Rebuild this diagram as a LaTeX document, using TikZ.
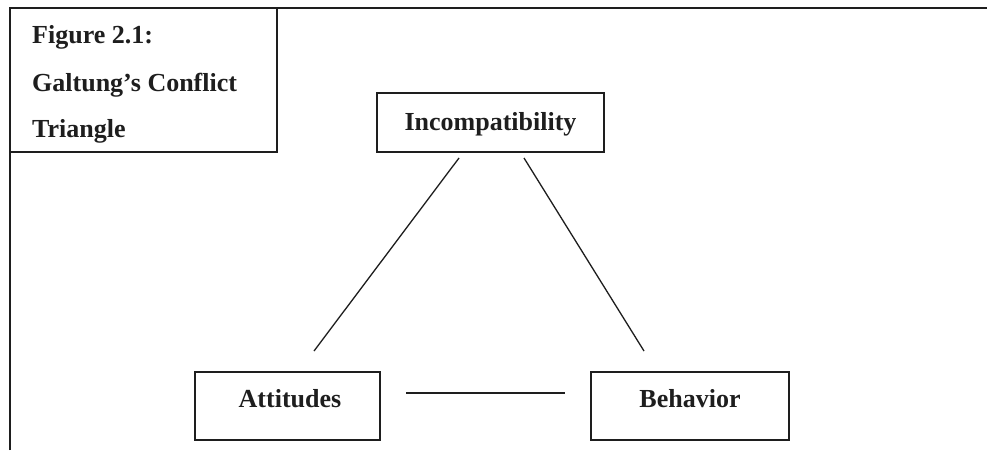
\documentclass[tikz,border=0pt]{standalone}
\usepackage{fontspec}
\setmainfont{Liberation Serif}
\definecolor{ink}{HTML}{1E1E1E}
\begin{document}
\begin{tikzpicture}[x=1pt,y=-1pt,
  boxstyle/.style={draw=ink,line width=1.7pt,rectangle,inner sep=0pt},
  lbl/.style={font=\fontsize{26}{30}\selectfont\bfseries,text=ink,inner sep=0pt,anchor=base},
  ttl/.style={font=\fontsize{26}{30}\selectfont\bfseries,text=ink,inner sep=0pt,anchor=base west},
  conn/.style={draw=ink,line width=1.3pt}]
\useasboundingbox[fill=white] (0,0) rectangle (987,450);
% outer frame
\coordinate (fbl) at (10,450);
\coordinate (ftl) at (10,8);
\coordinate (ftr) at (987,8);
\draw[draw=ink,line width=1.7pt] (fbl) -- (ftl) -- (ftr);
% title box
\node[boxstyle,minimum width=267pt,minimum height=144pt] (title) at (143.5,80) {};
\node[ttl] (t1) at (32,43) {Figure 2.1:};
\node[ttl] (t2) at (32,91) {Galtung’s Conflict};
\node[ttl] (t3) at (32,137) {Triangle};
% boxes
\node[boxstyle,minimum width=227pt,minimum height=59pt] (inc) at (490.5,122.5) {};
\node[lbl] (incl) at (490.5,130) {Incompatibility};
\node[boxstyle,minimum width=185pt,minimum height=68pt] (att) at (287.5,406) {};
\node[lbl] (attl) at (290,407) {Attitudes};
\node[boxstyle,minimum width=198pt,minimum height=68pt] (beh) at (690,406) {};
\node[lbl] (behl) at (690,407) {Behavior};
% connectors
\coordinate (c1a) at (459,158);
\coordinate (c1b) at (314,351);
\coordinate (c2a) at (524,158);
\coordinate (c2b) at (644,351);
\coordinate (c3a) at (406,393);
\coordinate (c3b) at (565,393);
\draw[conn] (c1a) -- (c1b);
\draw[conn] (c2a) -- (c2b);
\draw[conn] (c3a) -- (c3b);
\end{tikzpicture}
\end{document}
